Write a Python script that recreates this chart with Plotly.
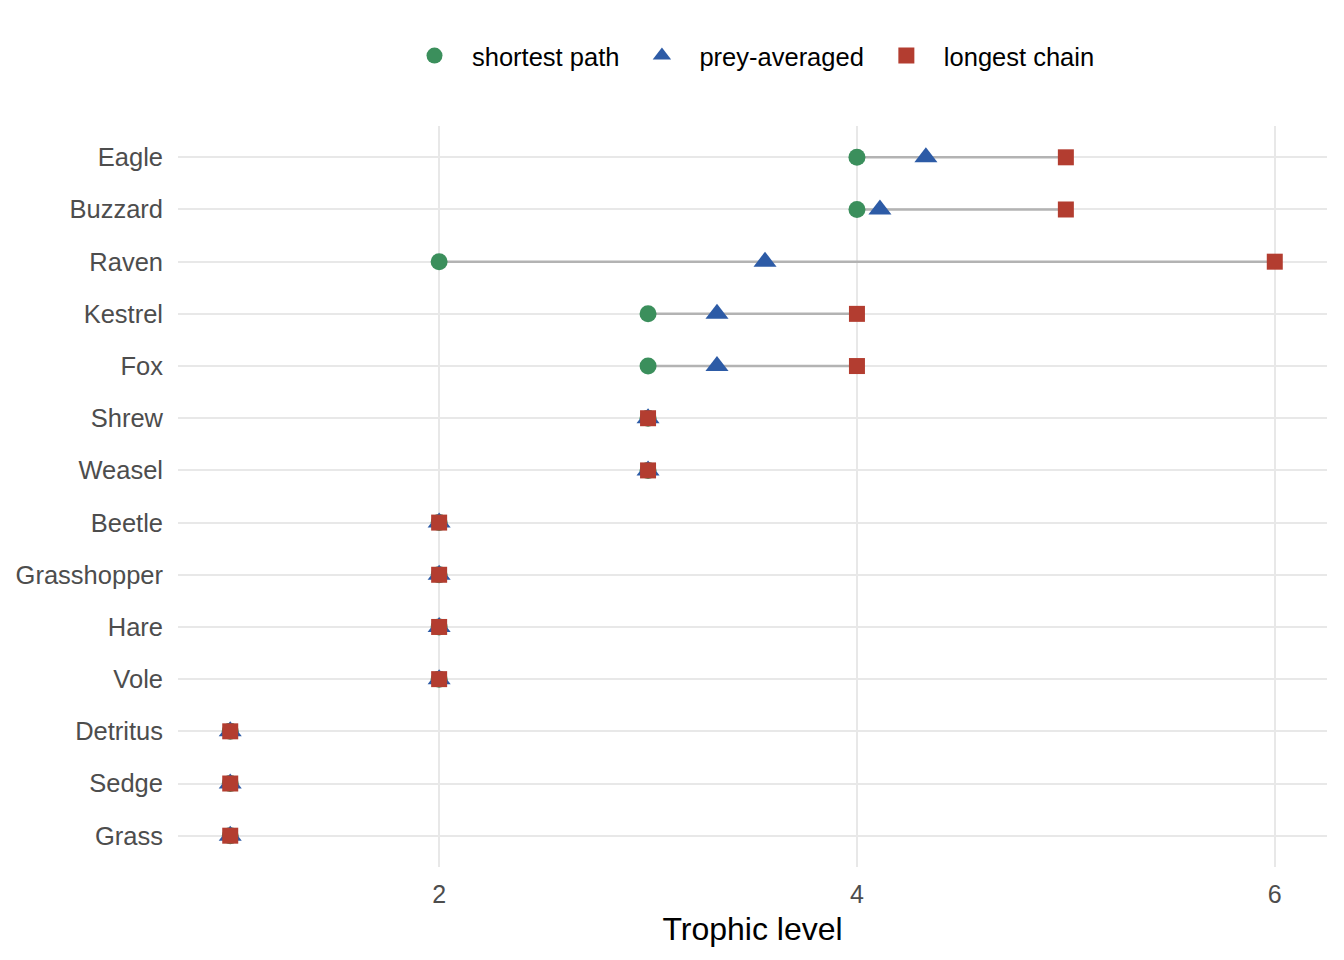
import plotly.graph_objects as go

species = ["Eagle", "Buzzard", "Raven", "Kestrel", "Fox", "Shrew", "Weasel",
           "Beetle", "Grasshopper", "Hare", "Vole", "Detritus", "Sedge", "Grass"]
shortest_path = [4, 4, 2, 3, 3, 3, 3, 2, 2, 2, 2, 1, 1, 1]
prey_averaged = [4.33, 4.11, 3.56, 3.33, 3.33, 3, 3, 2, 2, 2, 2, 1, 1, 1]
longest_chain = [5, 5, 6, 4, 4, 3, 3, 2, 2, 2, 2, 1, 1, 1]
x_ticks = [2, 4, 6]

FONT = "Liberation Sans, Arial, Helvetica, sans-serif"
GREEN = "#3B8F5C"
BLUE = "#2D5BA6"
RED = "#B33D30"

seg_x, seg_y = [], []
for s, lo, hi in zip(species, shortest_path, longest_chain):
    seg_x += [min(lo, hi), max(lo, hi), None]
    seg_y += [s, s, None]

fig = go.Figure()
fig.add_trace(go.Scatter(x=seg_x, y=seg_y, mode="lines",
                         line=dict(color="#B3B3B3", width=2.5),
                         showlegend=False, hoverinfo="skip"))
fig.add_trace(go.Scatter(x=shortest_path, y=species, mode="markers", name="shortest path",
                         marker=dict(symbol="circle", size=17, color=GREEN)))
fig.add_trace(go.Scatter(x=prey_averaged, y=species, mode="markers", name="prey-averaged",
                         marker=dict(symbol="triangle-up", size=20, color=BLUE)))
fig.add_trace(go.Scatter(x=longest_chain, y=species, mode="markers", name="longest chain",
                         marker=dict(symbol="square", size=16, color=RED)))

fig.update_layout(
    width=1344, height=960,
    margin=dict(l=178, r=17, t=126, b=93),
    paper_bgcolor="white", plot_bgcolor="white",
    font=dict(family=FONT, color="#000000"),
    showlegend=True,
    legend=dict(orientation="h", x=0.5 - 4 / 1149, xanchor="center", xref="paper",
                y=1 - 56 / 960, yref="container", yanchor="middle",
                font=dict(size=25.5, color="#000000"),
                itemwidth=65, bgcolor="rgba(0,0,0,0)"),
    xaxis=dict(range=[0.75, 6.25], tickvals=x_ticks, ticktext=[str(v) for v in x_ticks],
               showgrid=True, gridcolor="#E8E8E8", gridwidth=2.3, zeroline=False,
               showline=False, ticks="", ticklabelstandoff=10,
               tickfont=dict(size=25, color="#4D4D4D"),
               title=dict(text="Trophic level", font=dict(size=32, color="#000000"), standoff=10)),
    yaxis=dict(type="category", categoryorder="array", categoryarray=species[::-1],
               range=[-0.6, 13.6], showgrid=True, gridcolor="#E8E8E8", gridwidth=2.3,
               zeroline=False, showline=False, ticks="", ticklabelstandoff=14,
               tickfont=dict(size=25.5, color="#4D4D4D")),
)

fig.write_html("out.html")
